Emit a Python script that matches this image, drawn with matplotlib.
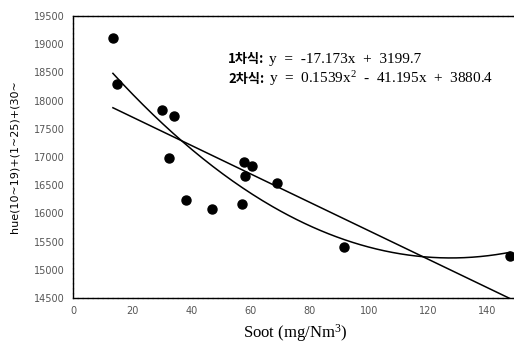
import numpy as np
import matplotlib
matplotlib.use('Agg')
import matplotlib.pyplot as plt

plt.rcParams['mathtext.fontset'] = 'custom'
plt.rcParams['mathtext.rm'] = 'Liberation Serif'
plt.rcParams['mathtext.it'] = 'Liberation Serif:italic'

#%% Datos
soot = [13.5, 14.9, 30.1, 34.2, 32.6, 38.1, 47.0, 57.1, 57.8, 58.2, 60.5, 69.0, 91.6, 147.8]
hue = [19110, 18290, 17830, 17730, 16980, 16240, 16080, 16170, 16910, 16660, 16840, 16540, 15400, 15250]

x_ticks = [0, 20, 40, 60, 80, 100, 120, 140]
y_ticks = [14500, 15000, 15500, 16000, 16500, 17000, 17500, 18000, 18500, 19000, 19500]

eq1_tag, eq1 = '1차식:', r'y  =  -17.173x  +  3199.7'
eq2_tag, eq2 = '2차식:', r'y  =  0.1539x$^{\mathrm{2}}$  -  41.195x  +  3880.4'

#%% Ajustes
p1 = np.polyfit(soot, hue, 1)
p2 = np.polyfit(soot, hue, 2)
xf = np.linspace(min(soot), max(soot), 200)

W, H = 514, 349
fig = plt.figure(figsize=(W/100, H/100), dpi=100)
ax = fig.add_axes([73/W, 51/H, 443.6/W, 282/H])

ax.plot(xf, np.polyval(p1, xf), c='k', lw=1.1)
ax.plot(xf, np.polyval(p2, xf), c='k', lw=1.1)
ax.plot(soot, hue, 'o', c='k', ms=6.5)

ax.set_xlim(0, 150)
ax.set_ylim(14500, 19500)
ax.set_xticks(x_ticks)
ax.set_yticks(y_ticks)
ax.tick_params(length=0, labelsize=7, labelcolor='#555555', pad=6)
for s in ('left', 'bottom', 'top'):
    ax.spines[s].set_linewidth(1.0)
    ax.spines[s].set_linestyle((0, (3, 0.6)))
ax.spines['right'].set_visible(False)

ax.set_xlabel(r'Soot (mg/Nm$^{\mathrm{3}}$)', family='Liberation Serif', fontsize=12, labelpad=4)
ax.set_ylabel('hue(10~19)+(1~25)+(30~', family='DejaVu Sans', fontsize=8, labelpad=10)

for (tag, eq), yy in zip([(eq1_tag, eq1), (eq2_tag, eq2)], [59, 79]):
    fig.text(228/W, 1-yy/H, tag, family='Noto Sans CJK KR', fontweight='bold',
             fontsize=9.5, va='center')
    fig.text(269/W, 1-yy/H, eq, family='Liberation Serif', fontsize=11, va='center')

fig.savefig('out.png', dpi=100)
